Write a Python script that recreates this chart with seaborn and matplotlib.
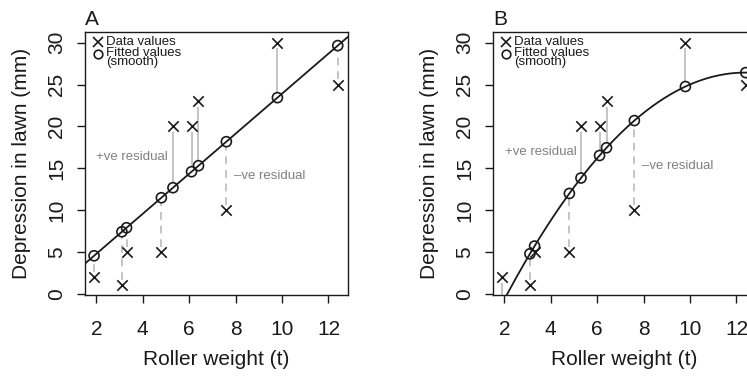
import numpy as np
import matplotlib
matplotlib.use("Agg")
import matplotlib.pyplot as plt
import seaborn as sns

# Lawn roller data: roller weight (t) and depression left in the lawn (mm)
weight = [1.9, 3.1, 3.3, 4.8, 5.3, 6.1, 6.4, 7.6, 9.8, 12.4]
depression = [2, 1, 5, 5, 20, 20, 23, 10, 30, 25]

panel_titles = ["A", "B"]
x_ticks = [2, 4, 6, 8, 10, 12]
y_ticks = [0, 5, 10, 15, 20, 25, 30]
legend_labels = ["Data values", "Fitted values", "(smooth)"]
pos_label = "+ve residual"
neg_label = "\u2013ve residual"

sns.set_style("ticks")
plt.rcParams["font.family"] = ["Liberation Sans", "DejaVu Sans"]

x = np.asarray(weight, dtype=float)
y = np.asarray(depression, dtype=float)

# A: straight line through the origin; B: quadratic in weight
slope0 = np.sum(x * y) / np.sum(x * x)
quad = np.polyfit(x, y, 2)

XLIM = (1.51, 12.83)
YLIM = (-0.18, 31.25)
INK = "#1a1a1a"
GREY_LINE = "#c4c4c4"
GREY_TEXT = "#808080"

fig = plt.figure(figsize=(7.47, 3.76), dpi=100)
ax_w, ax_h = 0.3517, 0.6995
axA = fig.add_axes([0.1138, 0.2146, ax_w, ax_h])
axB = fig.add_axes([0.660, 0.2146, ax_w, ax_h])


def draw_panel(ax, fitted, curve, title, pos_xy, neg_xy):
    ax.set_xlim(*XLIM)
    ax.set_ylim(*YLIM)

    # residual segments, trimmed so they stop at the marker edges
    trim = 0.65
    for xi, yi, fi in zip(x, y, fitted):
        lo, hi = sorted((yi, fi))
        if hi - lo <= 2 * trim:
            continue
        ls = "-" if yi > fi else (0, (4, 3))
        ax.plot([xi, xi], [lo + trim, hi - trim], color=GREY_LINE,
                lw=1.4, ls=ls, zorder=1, solid_capstyle="butt")

    curve(ax)

    sns.scatterplot(x=x, y=y, ax=ax, marker="x", s=56, color=INK,
                    linewidth=1.2, zorder=3, legend=False)
    sns.scatterplot(x=x, y=fitted, ax=ax, marker="o", s=52,
                    facecolor="none", edgecolor=INK, linewidth=1.2,
                    zorder=4, legend=False, clip_on=True)

    ax.text(*pos_xy, pos_label, color=GREY_TEXT, fontsize=9.5,
            ha="center", va="center")
    ax.text(*neg_xy, neg_label, color=GREY_TEXT, fontsize=9.5,
            ha="left", va="center")

    # legend keys
    tr = ax.transAxes
    ax.plot([0.0495], [0.963], marker="x", ms=7.6, mew=1.2, color=INK,
            transform=tr, clip_on=False, ls="none")
    ax.plot([0.0495], [0.919], marker="o", ms=6.2, mew=1.2, mfc="none",
            mec=INK, transform=tr, clip_on=False, ls="none")
    ax.text(0.080, 0.963, legend_labels[0], transform=tr, fontsize=9.5,
            color=INK, ha="left", va="center")
    ax.text(0.080, 0.921, legend_labels[1], transform=tr, fontsize=9.5,
            color=INK, ha="left", va="center")
    ax.text(0.080, 0.886, legend_labels[2], transform=tr, fontsize=9.5,
            color=INK, ha="left", va="center")

    ax.set_xticks(x_ticks)
    ax.set_yticks(y_ticks)
    ax.set_xlabel("Roller weight (t)", fontsize=15, color=INK, labelpad=8)
    ax.set_ylabel("Depression in lawn (mm)", fontsize=15, color=INK,
                  labelpad=12)
    ax.set_title(title, loc="left", fontsize=15, color=INK, pad=5)
    ax.tick_params(axis="both", direction="out", length=5.5, width=1.0,
                   labelsize=15, colors=INK, left=True, bottom=True)
    ax.tick_params(axis="x", pad=12)
    ax.tick_params(axis="y", pad=8)
    for lab in ax.get_yticklabels():
        lab.set_rotation(90)
        lab.set_va("center")
    for sp in ax.spines.values():
        sp.set_visible(True)
        sp.set_linewidth(1.0)
        sp.set_color(INK)


fitA = slope0 * x
fitB = np.polyval(quad, x)


def lineA(ax):
    ax.axline((0, 0), slope=slope0, color=INK, lw=1.3, zorder=2)


def lineB(ax):
    grid = np.linspace(XLIM[0], XLIM[1], 300)
    sns.lineplot(x=grid, y=np.polyval(quad, grid), ax=ax, color=INK,
                 lw=1.3, zorder=2, sort=False, estimator=None)


draw_panel(axA, fitA, lineA, panel_titles[0], (3.54, 16.3), (7.95, 14.1))
draw_panel(axB, fitB, lineB, panel_titles[1], (3.56, 16.9), (7.94, 15.3))

fig.savefig("out.png", dpi=100)
